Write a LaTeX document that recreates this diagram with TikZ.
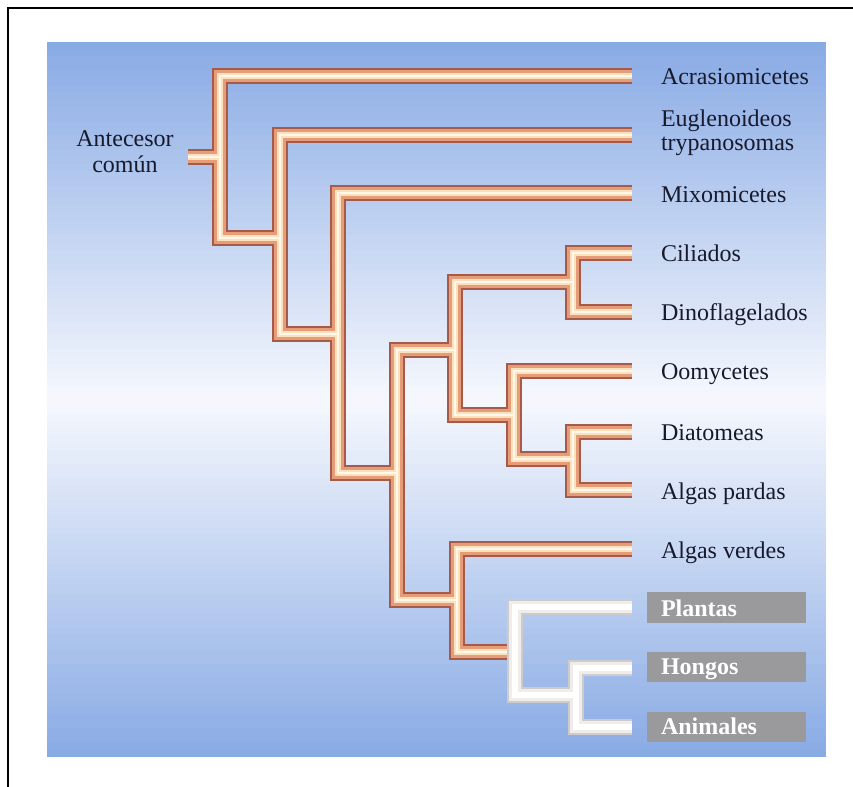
\documentclass[tikz,border=0pt]{standalone}
\usepackage{fontspec}
\setmainfont{Liberation Serif}
\definecolor{pipeA}{HTML}{A65B49}
\definecolor{pipeB}{HTML}{E69C78}
\definecolor{pipeC}{HTML}{FBE2BC}
\definecolor{pipeD}{HTML}{FFF8EA}
\definecolor{wpA}{HTML}{CFCBCB}
\definecolor{wpB}{HTML}{EFEDEB}
\definecolor{wpC}{HTML}{FFFFFF}
\definecolor{bgtop}{RGB}{136,170,228}
\definecolor{bgmid}{RGB}{246,248,253}
\definecolor{txt}{HTML}{161A2C}
\definecolor{boxgray}{HTML}{9A9A9C}
\begin{document}
\begin{tikzpicture}[x=0.75pt,y=-0.75pt,
  every node/.style={inner sep=0pt, outer sep=0pt, font=\fontsize{18pt}{18pt}\selectfont, text=txt},
  leaf/.style={anchor=base west},
  boxleaf/.style={anchor=base west, text=white, font=\fontsize{18pt}{18pt}\selectfont\bfseries},
  graybox/.style={fill=boxgray, draw=none},
  pipe/.style={line join=miter, line cap=butt},
  layA/.style={pipe, line width=12pt, draw=pipeA},
  layB/.style={pipe, line width=8.5pt, draw=pipeB},
  layC/.style={pipe, line width=5pt, draw=pipeC},
  layD/.style={pipe, line width=1.8pt, draw=pipeD},
  wA/.style={pipe, line width=12pt, draw=wpA},
  wB/.style={pipe, line width=8.5pt, draw=wpB},
  wC/.style={pipe, line width=4.5pt, draw=wpC},
  frame/.style={line width=1.5pt, draw=black}
]
\useasboundingbox (0,0) rectangle (853,787);
\fill[white] (0,0) rectangle (853,787);
\draw[frame] (8,787) -- (8,8) -- (853,8);
% background gradient panel (blue - white - blue)
\foreach \i in {0,...,99} {
  \pgfmathsetmacro\ya{42+\i*7.15}
  \pgfmathsetmacro\yb{\ya+7.6}
  \pgfmathsetmacro\p{abs((\i+0.5)/50-1)*100}
  \fill[bgtop!\p!bgmid] (47,\ya) rectangle (826,{min(\yb,757)});
}

% junction coordinates
\coordinate (r0) at (188,157);
\coordinate (r1) at (220,157);
\coordinate (eAcr) at (632,76);
\coordinate (eEug) at (632,135);
\coordinate (eMix) at (632,193);
\coordinate (eCil) at (632,253);
\coordinate (eDin) at (632,312);
\coordinate (eOom) at (632,371);
\coordinate (eDia) at (632,432);
\coordinate (eAlp) at (632,490);
\coordinate (eAlv) at (632,549);
\coordinate (ePla) at (632,607);
\coordinate (eHon) at (632,668);
\coordinate (eAni) at (632,727);

\newcommand\brownpaths[1]{%
  \draw[#1] (r0) -- (r1);
  \draw[#1] (eAcr) -- (220,76) -- (220,238) -- (280,238);
  \draw[#1] (eEug) -- (280,135) -- (280,334) -- (338,334);
  \draw[#1] (eMix) -- (338,193) -- (338,473) -- (397,473);
  \draw[#1] (455,350) -- (397,350) -- (397,600) -- (457,600);
  \draw[#1] (573,282) -- (455,282) -- (455,415) -- (514,415);
  \draw[#1] (eCil) -- (573,253) -- (573,312) -- (eDin);
  \draw[#1] (eOom) -- (514,371) -- (514,459) -- (573,459);
  \draw[#1] (eDia) -- (573,432) -- (573,490) -- (eAlp);
  \draw[#1] (eAlv) -- (457,549) -- (457,652) -- (515,652);
}
\newcommand\whitepaths[1]{%
  \draw[#1] (ePla) -- (515,607) -- (515,695) -- (576,695);
  \draw[#1] (eHon) -- (576,668) -- (576,727) -- (eAni);
}
\brownpaths{layA}
\brownpaths{layB}
\brownpaths{layC}
\brownpaths{layD}
\whitepaths{wA}
\whitepaths{wB}
\whitepaths{wC}

% labels
\node[anchor=base] (anc) at (125,147) {\begin{tabular}[t]{@{}c@{}}Antecesor\\[1.5pt] común\end{tabular}};
\node[leaf] (acr) at (661,85) {Acrasiomicetes};
\node[leaf] (eug) at (661,127) {\begin{tabular}[t]{@{}l@{}}Euglenoideos\\trypanosomas\end{tabular}};
\node[leaf] (mix) at (661,203) {Mixomicetes};
\node[leaf] (cil) at (661,262) {Ciliados};
\node[leaf] (din) at (661,321) {Dinoflagelados};
\node[leaf] (oom) at (661,380) {Oomycetes};
\node[leaf] (dia) at (661,441) {Diatomeas};
\node[leaf] (alp) at (661,499) {Algas pardas};
\node[leaf] (alv) at (661,558) {Algas verdes};

\fill[graybox] (647,592) rectangle (806,623);
\fill[graybox] (647,652) rectangle (806,682);
\fill[graybox] (647,712) rectangle (806,742);
\node[boxleaf] (pla) at (661,616) {Plantas};
\node[boxleaf] (hon) at (661,674) {Hongos};
\node[boxleaf] (ani) at (661,734) {Animales};
\end{tikzpicture}
\end{document}
